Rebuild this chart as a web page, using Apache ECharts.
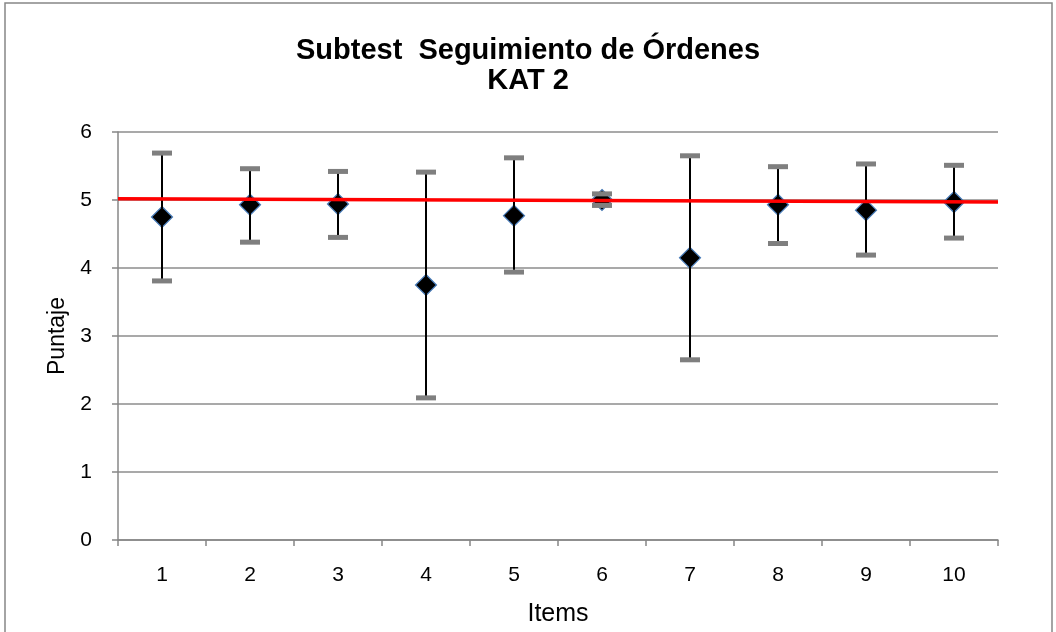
<!DOCTYPE html>
<html>
<head>
<meta charset="utf-8">
<script src="https://cdn.jsdelivr.net/npm/echarts@6/dist/echarts.min.js"></script>
<style>html,body{margin:0;padding:0;background:#fff}#c{width:1056px;height:632px}</style>
</head>
<body>
<div id="c"></div>
<script>
const categories = ['1','2','3','4','5','6','7','8','9','10'];
const means = [4.75, 4.93, 4.94, 3.75, 4.77, 5.00, 4.15, 4.93, 4.85, 4.97];
const upper = [5.69, 5.46, 5.42, 5.41, 5.62, 5.09, 5.65, 5.49, 5.53, 5.51];
const lower = [3.81, 4.38, 4.45, 2.09, 3.94, 4.92, 2.65, 4.36, 4.19, 4.44];
const refLine = [5.02, 4.97];
const yTicks = [0, 1, 2, 3, 4, 5, 6];

const chart = echarts.init(document.getElementById('c'), null, {renderer: 'canvas'});
const font = 'Liberation Sans, Arial, sans-serif';
const errData = categories.map((c, i) => [i, lower[i], upper[i]]);

chart.setOption({
  animation: false,
  backgroundColor: '#fff',
  title: {
    text: 'Subtest  Seguimiento de Órdenes\nKAT 2',
    left: 'center', top: 31,
    textStyle: {fontFamily: font, fontWeight: 'bold', fontSize: 29, color: '#000', lineHeight: 30}
  },
  graphic: [{
    type: 'rect', shape: {x: 5, y: 3, width: 1047, height: 660},
    style: {fill: 'none', stroke: '#878787', lineWidth: 1.5}, silent: true, z: -1
  }],
  grid: {left: 118, right: 58, top: 132, bottom: 90},
  xAxis: [{
    type: 'category', data: categories, boundaryGap: true,
    axisLine: {lineStyle: {color: '#878787', width: 1.5}},
    axisTick: {show: true, length: 6, lineStyle: {color: '#878787', width: 1.5}},
    axisLabel: {fontFamily: font, fontSize: 21, color: '#000', margin: 25},
    name: 'Items', nameLocation: 'middle', nameGap: 62,
    nameTextStyle: {fontFamily: font, fontSize: 25, color: '#000'}
  }, {
    type: 'value', min: 0, max: 1, show: false
  }],
  yAxis: {
    type: 'value', min: yTicks[0], max: yTicks[yTicks.length - 1], interval: 1,
    axisLine: {show: true, lineStyle: {color: '#878787', width: 1.5}},
    axisTick: {show: true, length: 6, lineStyle: {color: '#878787', width: 1.5}},
    axisLabel: {fontFamily: font, fontSize: 21, color: '#000', margin: 26},
    splitLine: {lineStyle: {color: '#8c8c8c', width: 1.5}},
    name: 'Puntaje', nameLocation: 'middle', nameGap: 43,
    nameTextStyle: {fontFamily: font, fontSize: 23, color: '#000'}
  },
  series: [{
    type: 'scatter', xAxisIndex: 0, data: means,
    symbol: 'diamond', symbolSize: 21,
    itemStyle: {color: '#000', borderColor: '#4a7ebb', borderWidth: 1.2, opacity: 1},
    z: 3
  }, {
    type: 'custom', xAxisIndex: 0, data: errData, z: 4,
    renderItem: function (params, api) {
      const lo = api.coord([api.value(0), api.value(1)]);
      const hi = api.coord([api.value(0), api.value(2)]);
      const capW = 20, capH = 5;
      return {
        type: 'group',
        children: [{
          type: 'line', shape: {x1: lo[0], y1: lo[1], x2: hi[0], y2: hi[1]},
          style: {stroke: '#000', lineWidth: 2}
        }, {
          type: 'rect', shape: {x: hi[0] - capW / 2, y: hi[1] - capH / 2, width: capW, height: capH},
          style: {fill: '#7f7f7f'}
        }, {
          type: 'rect', shape: {x: lo[0] - capW / 2, y: lo[1] - capH / 2, width: capW, height: capH},
          style: {fill: '#7f7f7f'}
        }]
      };
    }
  }, {
    type: 'line', xAxisIndex: 1, data: [[0, refLine[0]], [1, refLine[1]]],
    showSymbol: false, symbol: 'none',
    lineStyle: {color: '#ff0000', width: 3.5}, z: 5
  }]
});
</script>
</body>
</html>
